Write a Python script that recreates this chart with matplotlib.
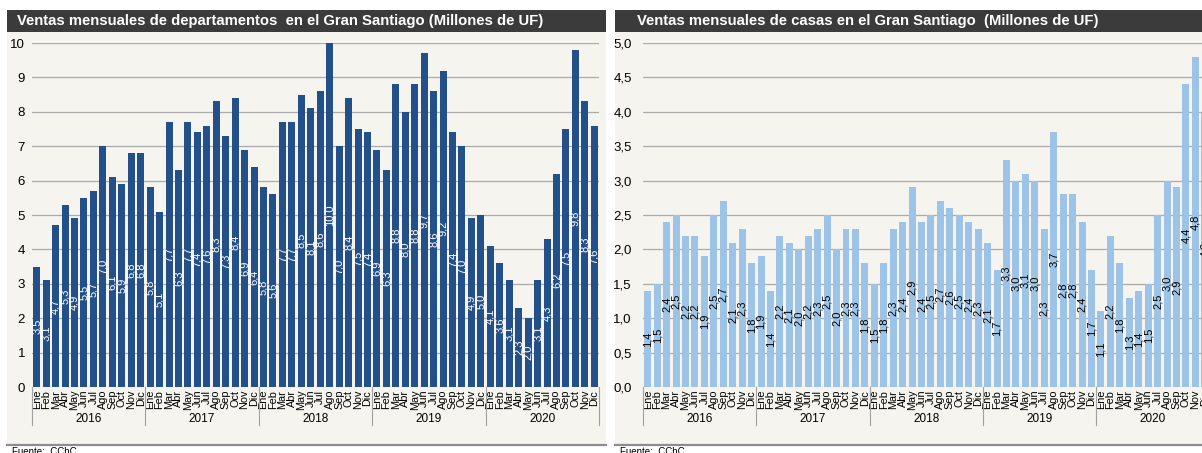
import matplotlib
matplotlib.use("Agg")
import matplotlib.pyplot as plt
from matplotlib.patches import Rectangle
from matplotlib.lines import Line2D

plt.rcParams['font.family'] = ['Liberation Sans', 'DejaVu Sans']

meses = ["Ene", "Feb", "Mar", "Abr", "May", "Jun",
         "Jul", "Ago", "Sep", "Oct", "Nov", "Dic"]
anios = ["2016", "2017", "2018", "2019", "2020"]

# ventas de departamentos, millones de UF
deptos_2016 = [3.5, 3.1, 4.7, 5.3, 4.9, 5.5, 5.7, 7.0, 6.1, 5.9, 6.8, 6.8]
deptos_2017 = [5.8, 5.1, 7.7, 6.3, 7.7, 7.4, 7.6, 8.3, 7.3, 8.4, 6.9, 6.4]
deptos_2018 = [5.8, 5.6, 7.7, 7.7, 8.5, 8.1, 8.6, 10.0, 7.0, 8.4, 7.5, 7.4]
deptos_2019 = [6.9, 6.3, 8.8, 8.0, 8.8, 9.7, 8.6, 9.2, 7.4, 7.0, 4.9, 5.0]
deptos_2020 = [4.1, 3.6, 3.1, 2.3, 2.0, 3.1, 4.3, 6.2, 7.5, 9.8, 8.3, 7.6]

# ventas de casas, millones de UF
casas_2016 = [1.4, 1.5, 2.4, 2.5, 2.2, 2.2, 1.9, 2.5, 2.7, 2.1, 2.3, 1.8]
casas_2017 = [1.9, 1.4, 2.2, 2.1, 2.0, 2.2, 2.3, 2.5, 2.0, 2.3, 2.3, 1.8]
casas_2018 = [1.5, 1.8, 2.3, 2.4, 2.9, 2.4, 2.5, 2.7, 2.6, 2.5, 2.4, 2.3]
casas_2019 = [2.1, 1.7, 3.3, 3.0, 3.1, 3.0, 2.3, 3.7, 2.8, 2.8, 2.4, 1.7]
casas_2020 = [1.1, 2.2, 1.8, 1.3, 1.4, 1.5, 2.5, 3.0, 2.9, 4.4, 4.8, 4.0]

deptos = deptos_2016 + deptos_2017 + deptos_2018 + deptos_2019 + deptos_2020
casas = casas_2016 + casas_2017 + casas_2018 + casas_2019 + casas_2020

W, H = 1202, 453
fig = plt.figure(figsize=(W / 100, H / 100), dpi=100)
fig.patch.set_facecolor("white")

crema = "#f5f4ee"
cabecera = "#3b3b3b"


def px(x, y):
    return x / W, 1 - y / H


def panel(x0, x1, titulo, tx):
    # fondo crema y cabecera gris, por debajo de los ejes
    fig.patches.append(Rectangle(px(x0, 445), (x1 - x0) / W, 413 / H,
                                 transform=fig.transFigure, facecolor=crema,
                                 edgecolor="none", zorder=-2))
    fig.patches.append(Rectangle(px(x0, 32), (x1 - x0) / W, 22 / H,
                                 transform=fig.transFigure, facecolor=cabecera,
                                 edgecolor="none", zorder=-2))
    fig.lines.append(Line2D([x0 / W, x1 / W], [1 - 445 / H] * 2,
                            transform=fig.transFigure, color="#8c8c8c", lw=1.6,
                            zorder=-1))
    fig.text(*px(tx, 21), titulo, color="white", fontsize=10.7, fontweight="bold",
             ha="left", va="center")
    fig.text(*px(x0 + 5, 447), "Fuente:  CChC", fontsize=7, ha="left", va="top")


def barras(ax, valores, color, color_txt, ymax, paso, fmt, pad):
    n = len(valores)
    x = list(range(n))
    ax.bar(x, valores, width=0.74, color=color, zorder=2)
    for i, v in enumerate(valores):
        ax.text(i, v / 2, f"{v:.1f}".replace(".", ","), rotation=90,
                ha="center", va="center", fontsize=8, color=color_txt, zorder=3)
    ax.set_xlim(-0.5, n - 0.5)
    ax.set_ylim(0, ymax)
    ticks = [k * paso for k in range(int(round(ymax / paso)) + 1)]
    ax.set_yticks(ticks)
    ax.set_yticklabels([fmt(t) for t in ticks], fontsize=9.5)
    ax.set_xticks(x)
    ax.set_xticklabels(meses * len(anios), rotation=90, fontsize=7.8,
                       va="top", ha="center")
    ax.tick_params(axis="both", length=0)
    ax.tick_params(axis="y", pad=pad)
    ax.tick_params(axis="x", pad=2)
    ax.grid(axis="y", color="#ababab", lw=0.9, zorder=1)
    ax.set_axisbelow(True)
    for s in ax.spines.values():
        s.set_visible(False)
    ax.patch.set_alpha(0)
    tr = ax.get_xaxis_transform()
    for k in range(len(anios) + 1):
        ax.plot([12 * k - 0.5] * 2, [0, -0.11], transform=tr, clip_on=False,
                color="#a0a0a0", lw=0.8)
    for k, a in enumerate(anios):
        ax.text(12 * k + 5.5, -0.094, a, transform=tr, ha="center",
                va="center", fontsize=8.5)


panel(7, 606, "Ventas mensuales de departamentos  en el Gran Santiago (Millones de UF)", 17)
panel(615, 1210, "Ventas mensuales de casas en el Gran Santiago  (Millones de UF)", 637)

ax1 = fig.add_axes([32 / W, 1 - 387 / H, 567 / W, 344 / H])
barras(ax1, deptos, "#24508a", "white", 10, 1, lambda t: f"{t:.0f}", 5)

ax2 = fig.add_axes([643 / W, 1 - 387 / H, 566.5 / W, 344 / H])
barras(ax2, casas, "#9dc3e6", "black", 5.0, 0.5,
       lambda t: f"{t:.1f}".replace(".", ","), 8)

fig.savefig("out.png", dpi=100)
